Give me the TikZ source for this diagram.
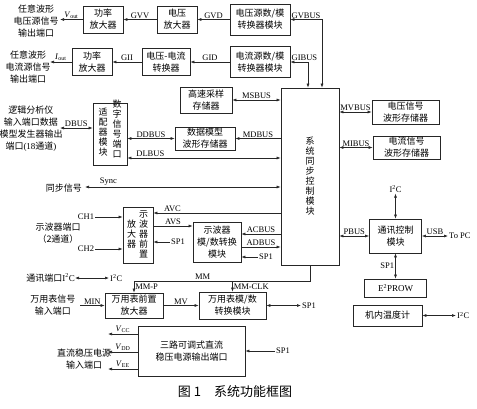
\documentclass[tikz,border=0pt]{standalone}
\usepackage{fontspec}
\setmainfont{Liberation Serif}
\newfontfamily\cjk{Noto Sans CJK SC}
\usetikzlibrary{arrows.meta}
\newcommand{\cjkfont}{\cjk\fontsize{9}{12}\selectfont}
\newcommand{\Itwo}{I\textsuperscript{2}C}
\tikzset{
  blk/.style={draw=black!85, line width=0.7pt, inner sep=0pt, align=center, font=\cjkfont},
  txt/.style={font=\cjkfont, align=center, inner sep=0pt},
  vtxt/.style={font=\cjk\fontsize{9}{10}\selectfont, align=center, inner sep=0pt},
  lbl/.style={font=\fontsize{8.5}{10}\selectfont, inner sep=1pt},
  ln/.style={draw=black!85, line width=0.6pt},
  arr/.style={ln, -{Latex[length=4pt,width=3pt]}},
  darr/.style={ln, {Latex[length=4pt,width=3pt]}-{Latex[length=4pt,width=3pt]}}
}
\begin{document}
\begin{tikzpicture}[x=1pt,y=-1pt]
\useasboundingbox (0,0) rectangle (477,408);

% output source chains
\node[blk,minimum width=40pt,minimum height=27pt] (pwrv) at (103,19.5) {功率\\放大器};
\node[blk,minimum width=40pt,minimum height=27pt] (vamp) at (177,19.5) {电压\\放大器};
\node[blk,minimum width=60pt,minimum height=31pt] (vdac) at (260,19.5) {电压源数/模\\转换器模块};
\node[blk,minimum width=40pt,minimum height=27pt] (pwri) at (92,62) {功率\\放大器};
\node[blk,minimum width=48pt,minimum height=27pt] (vic) at (166,62) {电压-电流\\转换器};
\node[blk,minimum width=60pt,minimum height=31pt] (idac) at (260,62) {电流源数/模\\转换器模块};

% central controller and memories
\node[blk,vtxt,minimum width=58pt,minimum height=177pt] (ctrl) at (310,176.5) {系\\统\\同\\步\\控\\制\\模\\块};
\node[blk,minimum width=52pt,minimum height=26pt] (hsm) at (206,100) {高速采样\\存储器};
\node[blk,minimum width=60pt,minimum height=23pt] (dmm) at (205,138.5) {数据模型\\波形存储器};
\node[blk,minimum width=34pt,minimum height=62pt] (dpa) at (110,134) {};
\node[vtxt] (dpaR) at (117,129) {数\\字\\信\\号\\端\\口};
\node[vtxt] (dpaL) at (103,132.5) {适\\配\\器\\模\\块};
\node[blk,minimum width=67pt,minimum height=24pt] (mvm) at (405.5,112) {电压信号\\波形存储器};
\node[blk,minimum width=67pt,minimum height=23pt] (mim) at (406.5,147.5) {电流信号\\波形存储器};

% oscilloscope
\node[blk,minimum width=30pt,minimum height=56pt] (osp) at (138,235) {};
\node[vtxt] (ospR) at (143.5,234) {示\\波\\器\\前\\置};
\node[vtxt] (ospL) at (131.5,234) {放\\大\\器};
\node[blk,minimum width=48pt,minimum height=40pt] (oad) at (217,242) {示波器\\模/数转换\\模块};

% multimeter, power
\node[blk,minimum width=58pt,minimum height=25pt] (mpa) at (134,305.5) {万用表前置\\放大器};
\node[blk,minimum width=67pt,minimum height=27pt] (mad) at (232.5,305.5) {万用表模/数\\转换模块};
\node[blk,minimum width=107pt,minimum height=50pt] (dc) at (191.5,351) {三路可调式直流\\稳压电源输出端口};

% communication
\node[blk,minimum width=52pt,minimum height=34pt] (comm) at (395.5,236) {通讯控制\\模块};
\node[blk,font=\fontsize{9}{10}\selectfont,minimum width=62pt,minimum height=18pt] (eep) at (395.5,288) {E\textsuperscript{2}PROW};
\node[blk,minimum width=69pt,minimum height=21pt] (thm) at (387.5,315.5) {机内温度计};

% port texts
\node[txt] (voutport) at (36,21) {任意波形\\电压源信号\\输出端口};
\node[txt] (ioutport) at (28,67.5) {任意波形\\电流源信号\\输出端口};
\node[txt] (laport) at (31,129) {逻辑分析仪\\输入端口数据\\模型发生器输出\\端口{\rmfamily(18}通道{\rmfamily)}};
\node[txt,anchor=east] (syncport) at (82,188) {同步信号};
\node[txt] (oscport) at (58,233.5) {示波器端口\\（2通道）};
\node[txt,anchor=east] (i2cport) at (75,278) {通讯端口{\rmfamily\Itwo}};
\node[txt] (mport) at (53,305.5) {万用表信号\\输入端口};
\node[txt] (dcport) at (84,359.5) {直流稳压电源\\输入端口};

% small labels
\node[lbl] (ch1) at (86,217) {CH1};
\node[lbl] (ch2) at (86,249) {CH2};
\node[lbl,anchor=west] (i2cR) at (109,278) {\Itwo};
\node[lbl,anchor=west] (sp1a) at (170,242) {SP1};
\node[lbl,anchor=west] (sp1b) at (258,257) {SP1};
\node[lbl,anchor=west] (sp1c) at (301,305.5) {SP1};
\node[lbl,anchor=west] (sp1d) at (275,351) {SP1};
\node[lbl,anchor=west] (topc) at (448,236) {To PC};
\node[lbl,anchor=west] (i2cT) at (456,315.5) {\Itwo};
\node[lbl] (i2cC) at (395.5,189) {\Itwo};

\coordinate (voutend) at (60,19.5);
\coordinate (ioutend) at (50,62);
\coordinate (gvx) at (322,0);
\coordinate (gix) at (308,0);
\coordinate (dbusL) at (60,128);
\coordinate (dlbus) at (0,158);
\coordinate (syncL) at (85,187);
\coordinate (avc) at (0,213);
\coordinate (avs) at (0,226);
\coordinate (acbus) at (0,234);
\coordinate (adbus) at (0,247);
\coordinate (mm) at (0,281);
\coordinate (minL) at (80,305.5);
\coordinate (vcc) at (108,334);
\coordinate (vdd) at (108,352);
\coordinate (vee) at (108,369);

% top chains
\draw[arr] (pwrv.west) -- node[lbl,above]{\textit{V}\textsubscript{out}} (voutend);
\draw[arr] (vamp.west) -- node[lbl,above]{GVV} (pwrv.east);
\draw[arr] (vdac.west) -- node[lbl,above]{GVD} (vamp.east);
\draw[arr] (pwri.west) -- node[lbl,above]{\textit{I}\textsubscript{out}} (ioutend);
\draw[arr] (vic.west) -- node[lbl,above]{GII} (pwri.east);
\draw[arr] (idac.west) -- node[lbl,above]{GID} (vic.east);
\draw[darr] (vdac.east) -- node[lbl,anchor=south west,pos=0]{GVBUS} (vdac.east -| gvx) -- (gvx |- ctrl.north);
\draw[darr] (idac.east) -- node[lbl,anchor=south west,pos=0]{GIBUS} (idac.east -| gix) -- (gix |- ctrl.north);

% left buses
\draw[darr] (hsm.east) -- node[lbl,above]{MSBUS} (hsm.east -| ctrl.west);
\draw[darr] (dbusL) -- node[lbl,above]{DBUS} (dbusL -| dpa.west);
\draw[darr] (dmm.west -| dpa.east) -- node[lbl,above]{DDBUS} (dmm.west);
\draw[arr] (dmm.east -| ctrl.west) -- node[lbl,above]{MDBUS} (dmm.east);
\draw[darr] (dlbus -| dpa.east) -- node[lbl,above,pos=0.15]{DLBUS} (dlbus -| ctrl.west);
\draw[darr] (syncL) -- node[lbl,above,pos=0.12]{Sync} (syncL -| ctrl.west);

% oscilloscope
\draw[arr] (ch1.east) -- (ch1.east -| osp.west);
\draw[arr] (ch2.east) -- (ch2.east -| osp.west);
\draw[arr] (avc -| ctrl.west) -- node[lbl,above,pos=0.85]{AVC} (avc -| osp.east);
\draw[arr] (avs -| osp.east) -- node[lbl,above]{AVS} (avs -| oad.west);
\draw[arr] (sp1a.west) -- (sp1a.west -| osp.east);
\draw[arr] (acbus -| ctrl.west) -- node[lbl,above]{ACBUS} (acbus -| oad.east);
\draw[arr] (adbus -| oad.east) -- node[lbl,above]{ADBUS} (adbus -| ctrl.west);
\draw[arr] (sp1b.west) -- (sp1b.west -| oad.east);
\draw[darr] (i2cport.east) -- (i2cR.west);

% multimeter
\draw[arr] (ctrl.south) -- (ctrl.south |- mm) -- node[lbl,above,pos=0.61]{MM} (mm -| mpa.north) -- node[lbl,right]{MM-P} (mpa.north);
\draw[arr] (mad.north |- mm) -- node[lbl,right]{MM-CLK} (mad.north);
\draw[arr] (minL) -- node[lbl,above]{MIN} (mpa.west);
\draw[arr] (mpa.east) -- node[lbl,above]{MV} (mpa.east -| mad.west);
\draw[darr] (mad.east) -- (sp1c.west);

% power outputs
\draw[arr] (vcc -| dc.west) -- node[lbl,above]{\textit{V}\textsubscript{CC}} (vcc);
\draw[arr] (vdd -| dc.west) -- node[lbl,above]{\textit{V}\textsubscript{DD}} (vdd);
\draw[arr] (vee -| dc.west) -- node[lbl,above]{\textit{V}\textsubscript{EE}} (vee);
\draw[arr] (sp1d.west) -- (sp1d.west -| dc.east);

% right side
\draw[darr] (ctrl.east |- mvm.west) -- node[lbl,above]{MVBUS} (mvm.west);
\draw[darr] (ctrl.east |- mim.west) -- node[lbl,above]{MIBUS} (mim.west);
\draw[darr] (ctrl.east |- comm.west) -- node[lbl,above]{PBUS} (comm.west);
\draw[darr] (comm.east) -- node[lbl,above]{USB} (topc.west);
\draw[darr] (comm.north) -- (i2cC.south);
\draw[darr] (comm.south) -- node[lbl,left]{SP1} (eep.north);
\draw[darr] (thm.east) -- (i2cT.west);

\node[font=\cjk\fontsize{13}{15}\selectfont] (cap) at (235,392) {图 1\hspace{1em}系统功能框图};
\end{tikzpicture}
\end{document}
